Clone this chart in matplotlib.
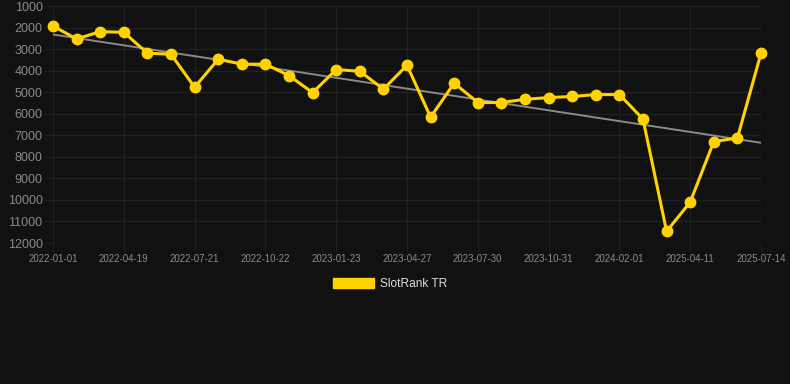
import numpy as np
import matplotlib.pyplot as plt
from matplotlib.patches import Patch

dates = ['2022-01-01', '2022-02-06', '2022-03-14', '2022-04-19', '2022-05-20', '2022-06-20',
         '2022-07-21', '2022-08-21', '2022-09-21', '2022-10-22', '2022-11-22', '2022-12-23',
         '2023-01-23', '2023-02-23', '2023-03-26', '2023-04-27', '2023-05-28', '2023-06-28',
         '2023-07-30', '2023-08-30', '2023-09-30', '2023-10-31', '2023-12-01', '2024-01-01',
         '2024-02-01', '2024-03-03', '2025-01-01', '2025-04-11', '2025-05-14', '2025-06-14',
         '2025-07-14']
ranks = [1930, 2530, 2190, 2220, 3190, 3240, 4770, 3470, 3700, 3700, 4230, 5020,
         3950, 4030, 4860, 3750, 6160, 4580, 5480, 5480, 5330, 5250, 5200, 5110,
         5110, 6250, 11460, 10100, 7290, 7130, 3190]
label_every = 3
series_name = 'SlotRank TR'

plt.rcParams['font.family'] = ['Liberation Sans', 'DejaVu Sans']

BG = '#111111'
GOLD = '#FFD200'
GRID = '#202020'

fig = plt.figure(figsize=(7.9, 3.84), dpi=100, facecolor=BG)
ax = fig.add_axes([53 / 790, 1 - 243 / 384, (761 - 53) / 790, (243 - 6) / 384])
ax.set_facecolor(BG)

x = np.arange(len(ranks))
slope, icpt = np.polyfit(x, ranks, 1)
ax.plot(x, slope * x + icpt, color='#8a8a8a', lw=1.4, zorder=2)
ax.plot(x, ranks, color=GOLD, lw=2.2, marker='o', ms=7.5, zorder=3, clip_on=False)

ax.set_xlim(0, len(ranks) - 1)
ax.set_ylim(12000, 1000)
ax.set_yticks(np.arange(1000, 12001, 1000))
ax.set_xticks(x[::label_every])
ax.set_xticklabels(dates[::label_every])

ax.grid(True, color=GRID, lw=1)
ax.set_axisbelow(True)
for s in ax.spines.values():
    s.set_visible(False)
ax.tick_params(axis='y', colors=GRID, labelcolor='#8a8a8a', labelsize=9, length=6.5, pad=1)
ax.tick_params(axis='x', colors=GRID, labelcolor='#8a8a8a', labelsize=7, length=6, pad=2)

fig.legend(handles=[Patch(facecolor=GOLD, edgecolor=GOLD)], labels=[series_name],
           loc='center', bbox_to_anchor=(390 / 790, 1 - 284 / 384), frameon=False,
           fontsize=8.6, labelcolor='#dddddd', handlelength=3.4, handleheight=0.9,
           handletextpad=0.5)

fig.savefig('out.png', facecolor=BG)
